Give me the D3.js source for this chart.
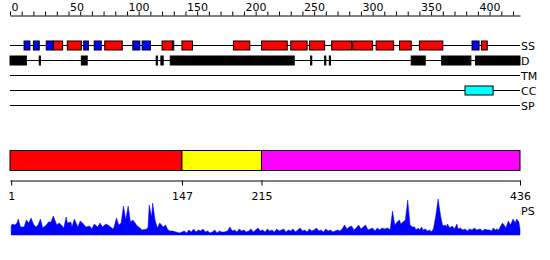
<!DOCTYPE html>
<html>
<head>
<meta charset="utf-8">
<script src="https://cdn.jsdelivr.net/npm/d3@7"></script>
<style>
  body { margin: 0; background: #fff; }
  svg { display: block; font-family: "DejaVu Sans", sans-serif; }
</style>
</head>
<body>
<svg id="chart" width="550" height="260"></svg>
<script>
//Sequence length and tick labels
const seqLength = 436;
const topTickLabels = [0, 50, 100, 150, 200, 250, 300, 350, 400];
const domainBounds = [1, 147, 215, 436];
const domainColors = ["#ff0000", "#ffff00", "#ff00ff"];

//Feature tracks, as [start, end] residues
const ssHelix = [[37, 45], [49, 61], [81, 96], [130, 139], [147, 156], [191, 205], [215, 237],
  [240, 254], [256, 269], [275, 292], [293, 310], [313, 328], [333, 343], [350, 370], [403, 408]];
const ssStrand = [[12, 17], [20, 25], [31, 37], [63, 67], [72, 78], [105, 111], [113, 120],
  [139, 140], [395, 401]];
const disorder = [[0, 14], [25, 26], [61, 66], [125, 126], [129, 131], [137, 243], [257, 258],
  [269, 270], [273, 274], [343, 355], [369, 394], [398, 436]];
const transMembrane = [];
const coiledCoil = [[389, 413]];
const signalPeptide = [];

//PS profile
const psResidue = [1, 2, 4, 6, 7, 9, 12, 14, 16, 18, 20, 22, 24, 26, 28, 31, 33, 35, 37, 40, 42, 44, 46, 48, 49,
  52, 53, 55, 58, 60, 62, 65, 68, 70, 72, 75, 77, 79, 82, 85, 88, 89, 91, 93, 95, 97, 99, 101, 103, 105,
  107, 108, 111, 113, 117, 118, 119, 121, 122, 124, 126, 128, 131, 133, 135, 137, 139, 142, 145, 147,
  149, 151, 153, 155, 157, 159, 161, 163, 165, 167, 169, 171, 173, 175, 177, 179, 181, 183, 186, 188,
  190, 192, 194, 196, 198, 200, 202, 204, 206, 208, 210, 212, 214, 216, 218, 220, 222, 224, 226, 228,
  230, 232, 234, 236, 238, 240, 242, 244, 246, 248, 250, 252, 254, 256, 258, 260, 262, 264, 266, 268,
  270, 272, 274, 276, 278, 280, 282, 284, 286, 288, 290, 292, 294, 296, 298, 300, 302, 304, 306, 308,
  310, 312, 314, 316, 318, 320, 323, 325, 327, 329, 331, 333, 334, 336, 338, 340, 342, 344, 346, 347,
  349, 350, 352, 353, 355, 357, 359, 360, 362, 364, 366, 368, 369, 370, 372, 373, 374, 376, 378, 380,
  382, 383, 385, 387, 389, 391, 393, 395, 397, 399, 402, 404, 406, 408, 410, 412, 413, 415, 416, 418,
  419, 421, 423, 424, 426, 428, 430, 432, 433, 435, 436];
const psScore = [9, 11, 10, 12, 16, 8, 8, 15, 12, 17, 11, 8, 10, 16, 7, 10, 13, 13, 19, 10, 12, 10, 7, 18, 12,
  13, 8, 16, 8, 14, 12, 8, 9, 6, 11, 8, 12, 8, 11, 9, 6, 8, 17, 10, 12, 29, 15, 29, 13, 15,
  12, 10, 7, 5, 6, 8, 30, 18, 32, 15, 7, 12, 8, 10, 5, 4, 4, 3, 2, 3,
  4, 2, 5, 3, 6, 3, 5, 4, 6, 3, 4, 2, 3, 5, 2, 4, 3, 3, 4, 8,
  4, 5, 3, 6, 4, 5, 3, 4, 6, 3, 5, 7, 4, 5, 3, 6, 4, 5, 3, 6,
  4, 5, 6, 3, 5, 4, 6, 3, 5, 7, 4, 5, 3, 6, 4, 5, 7, 4, 5, 3,
  6, 4, 5, 3, 4, 5, 4, 6, 10, 6, 8, 9, 5, 7, 10, 6, 8, 10, 5, 6,
  7, 4, 7, 5, 7, 6, 7, 5, 24, 10, 13, 15, 11, 13, 15, 35, 10, 8, 8, 5,
  7, 5, 8, 5, 6, 4, 5, 3, 6, 19, 36, 20, 14, 9, 10, 8, 11, 7, 9, 6,
  11, 6, 7, 5, 6, 4, 6, 5, 7, 5, 6, 4, 6, 5, 5, 4, 7, 5, 6, 5,
  8, 12, 9, 7, 14, 10, 16, 12, 16, 13, 6];

//Layout
const chart = {};
chart.left = 10;
chart.right = 520;
chart.boxHeight = 9;
chart.svg = d3.select("#chart");

chart.x = d3.scaleLinear().domain([0, seqLength]).range([chart.left, chart.right]);
chart.y = d3.scaleLinear().domain([0, 36]).range([235, 199]);

//Top ruler
chart.svg
  .append("g")
  .attr("transform", "translate(0,15.5)")
  .call(
    d3.axisTop(chart.x)
      .tickValues(d3.range(0, seqLength, 10))
      .tickFormat((d) => (topTickLabels.includes(d) ? d : ""))
      .tickSize(4)
      .tickSizeOuter(0)
      .tickPadding(1)
  )
  .call((g) => g.attr("font-family", "DejaVu Sans").attr("font-size", 11))
  .call((g) => g.selectAll("text").attr("text-anchor", "start").attr("dx", 1));

//Feature tracks
const tracks = [
  { name: "SS", y: 45.5, parts: [{ data: ssHelix, fill: "#ff0000" }, { data: ssStrand, fill: "#0000ff" }] },
  { name: "D", y: 60.5, parts: [{ data: disorder, fill: "#000000" }] },
  { name: "TM", y: 75.5, parts: [{ data: transMembrane, fill: "#000000" }] },
  { name: "CC", y: 90.5, parts: [{ data: coiledCoil, fill: "#00ffff" }] },
  { name: "SP", y: 105.5, parts: [{ data: signalPeptide, fill: "#000000" }] },
];

tracks.forEach((t) => {
  const g = chart.svg.append("g");

  g.append("line")
    .attr("x1", chart.left)
    .attr("x2", chart.right)
    .attr("y1", t.y)
    .attr("y2", t.y)
    .attr("stroke", "#000");

  t.parts.forEach((p) => {
    g.selectAll(null)
      .data(p.data)
      .join("rect")
      .attr("x", (d) => chart.x(d[0]))
      .attr("width", (d) => chart.x(d[1]) - chart.x(d[0]))
      .attr("y", t.y - chart.boxHeight / 2)
      .attr("height", chart.boxHeight)
      .attr("fill", p.fill)
      .attr("stroke", "#000");
  });

  g.append("text")
    .attr("x", chart.right + 1)
    .attr("y", t.y + 4)
    .attr("font-size", 11)
    .text(t.name);
});

//Domain bar
chart.svg
  .append("g")
  .selectAll("rect")
  .data(domainColors)
  .join("rect")
  .attr("x", (d, i) => chart.x(i === 0 ? 0 : domainBounds[i]))
  .attr("width", (d, i) => chart.x(domainBounds[i + 1]) - chart.x(i === 0 ? 0 : domainBounds[i]))
  .attr("y", 150.5)
  .attr("height", 20)
  .attr("fill", (d) => d)
  .attr("stroke", "#000");

//Domain boundary axis
chart.svg
  .append("g")
  .attr("transform", "translate(0,180.5)")
  .call(d3.axisBottom(chart.x).tickValues(domainBounds).tickSize(5).tickSizeOuter(0).tickPadding(7))
  .call((g) => g.attr("font-family", "DejaVu Sans").attr("font-size", 11));

//PS profile
const ps = psResidue.map((r, i) => ({ r: r, v: psScore[i] }));

chart.svg
  .append("path")
  .datum(ps)
  .attr("fill", "#0000ff")
  .attr("stroke", "#0000ff")
  .attr("stroke-width", 0.5)
  .attr(
    "d",
    d3.area()
      .x((d) => chart.x(d.r))
      .y0(chart.y(0))
      .y1((d) => chart.y(d.v))
  );

chart.svg
  .append("text")
  .attr("x", chart.right + 1)
  .attr("y", 215)
  .attr("font-size", 11)
  .text("PS");
</script>
</body>
</html>
